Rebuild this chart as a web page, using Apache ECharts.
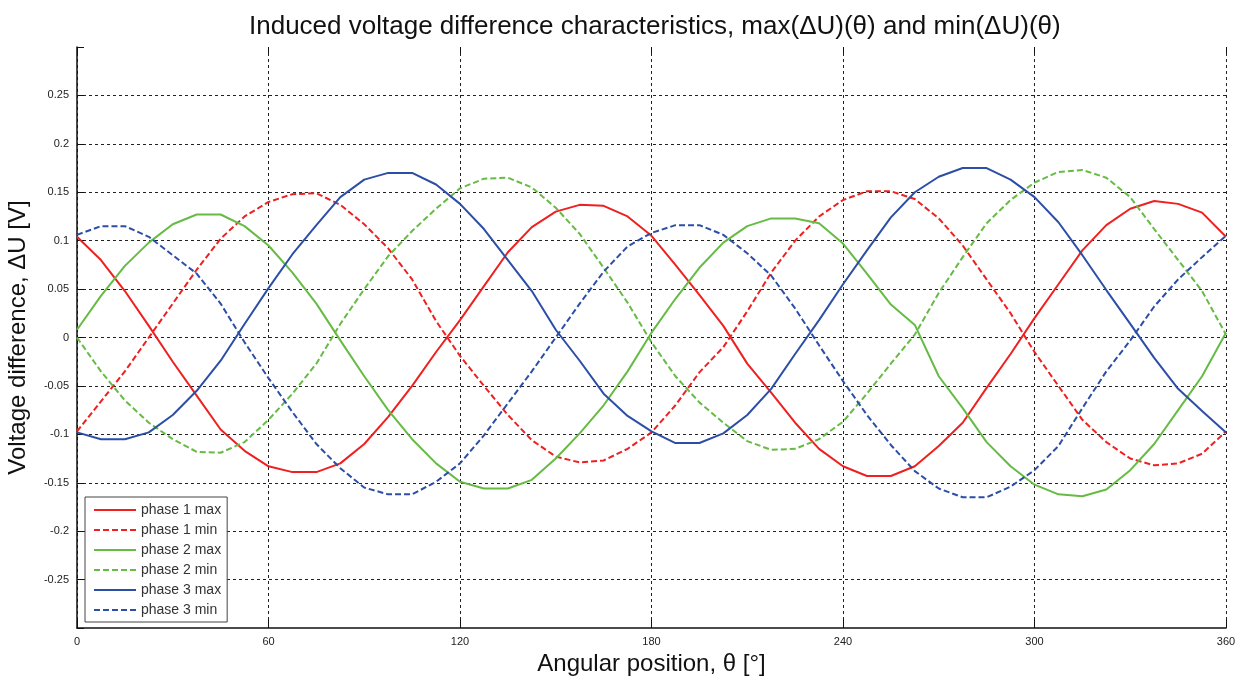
<!DOCTYPE html>
<html>
<head>
<meta charset="utf-8">
<script src="https://cdn.jsdelivr.net/npm/echarts@6/dist/echarts.min.js"></script>
<style>
  html, body { margin: 0; padding: 0; background: #fff; }
  #chart { width: 1247px; height: 678px; }
</style>
</head>
<body>
<div id="chart"></div>
<script>
// angular position samples, degrees
var theta = [0, 7.5, 15, 22.5, 30, 37.5, 45, 52.5, 60, 67.5, 75, 82.5, 90, 97.5, 105, 112.5,
  120, 127.5, 135, 142.5, 150, 157.5, 165, 172.5, 180, 187.5, 195, 202.5, 210, 217.5, 225, 232.5,
  240, 247.5, 255, 262.5, 270, 277.5, 285, 292.5, 300, 307.5, 315, 322.5, 330, 337.5, 345, 352.5, 360];

// volts
var phase1Max = [0.104, 0.080, 0.048, 0.012, -0.025, -0.060, -0.095, -0.117, -0.133, -0.139, -0.139, -0.130, -0.110, -0.082, -0.050, -0.015,
  0.018, 0.053, 0.088, 0.114, 0.130, 0.137, 0.136, 0.125, 0.105, 0.075, 0.044, 0.012, -0.027, -0.057, -0.088, -0.115,
  -0.133, -0.143, -0.143, -0.133, -0.112, -0.088, -0.052, -0.017, 0.020, 0.055, 0.090, 0.116, 0.133, 0.141, 0.138, 0.129, 0.104];
var phase1Min = [-0.097, -0.066, -0.035, 0.000, 0.035, 0.070, 0.102, 0.125, 0.140, 0.148, 0.149, 0.137, 0.117, 0.092, 0.060, 0.017,
  -0.019, -0.050, -0.080, -0.106, -0.123, -0.129, -0.127, -0.115, -0.098, -0.070, -0.036, -0.010, 0.027, 0.067, 0.100, 0.125,
  0.142, 0.151, 0.151, 0.143, 0.123, 0.095, 0.060, 0.025, -0.015, -0.050, -0.085, -0.108, -0.125, -0.132, -0.130, -0.120, -0.097];
var phase2Max = [0.008, 0.043, 0.074, 0.098, 0.117, 0.127, 0.127, 0.115, 0.095, 0.067, 0.035, -0.003, -0.040, -0.075, -0.105, -0.130,
  -0.149, -0.156, -0.156, -0.147, -0.125, -0.099, -0.070, -0.035, 0.005, 0.040, 0.072, 0.098, 0.115, 0.123, 0.123, 0.118,
  0.097, 0.066, 0.034, 0.013, -0.040, -0.073, -0.108, -0.133, -0.152, -0.162, -0.164, -0.157, -0.137, -0.110, -0.075, -0.040, 0.005];
var phase2Min = [0.000, -0.035, -0.065, -0.088, -0.105, -0.118, -0.119, -0.108, -0.085, -0.058, -0.027, 0.014, 0.050, 0.084, 0.110, 0.133,
  0.154, 0.164, 0.165, 0.155, 0.134, 0.107, 0.072, 0.036, -0.005, -0.040, -0.067, -0.088, -0.107, -0.116, -0.115, -0.105,
  -0.087, -0.058, -0.027, 0.003, 0.046, 0.083, 0.118, 0.142, 0.160, 0.171, 0.173, 0.165, 0.145, 0.112, 0.080, 0.048, 0.003];
var phase3Max = [-0.098, -0.105, -0.105, -0.098, -0.080, -0.055, -0.024, 0.014, 0.051, 0.086, 0.116, 0.145, 0.163, 0.170, 0.170, 0.158,
  0.138, 0.112, 0.080, 0.048, 0.008, -0.024, -0.058, -0.081, -0.097, -0.109, -0.109, -0.099, -0.080, -0.053, -0.017, 0.018,
  0.055, 0.090, 0.124, 0.150, 0.166, 0.175, 0.175, 0.163, 0.145, 0.119, 0.085, 0.049, 0.014, -0.021, -0.053, -0.076, -0.098];
var phase3Min = [0.106, 0.115, 0.115, 0.104, 0.085, 0.066, 0.035, -0.005, -0.042, -0.077, -0.110, -0.135, -0.155, -0.162, -0.162, -0.149,
  -0.130, -0.101, -0.068, -0.035, 0.000, 0.035, 0.068, 0.094, 0.108, 0.116, 0.116, 0.106, 0.087, 0.064, 0.030, -0.008,
  -0.045, -0.080, -0.111, -0.138, -0.156, -0.165, -0.165, -0.154, -0.137, -0.112, -0.073, -0.035, -0.003, 0.032, 0.060, 0.083, 0.105];

var seriesNames = ['phase 1 max', 'phase 1 min', 'phase 2 max', 'phase 2 min', 'phase 3 max', 'phase 3 min'];
var seriesValues = [phase1Max, phase1Min, phase2Max, phase2Min, phase3Max, phase3Min];

var RED = '#ee2020', GREEN = '#66bb44', BLUE = '#2c4ea6';
var colors = [RED, RED, GREEN, GREEN, BLUE, BLUE];

var FONT = '"Liberation Sans", Arial, sans-serif';
var gridDash = { color: '#222', width: 1, type: [3, 3] };

function pairs(vals) {
  return theta.map(function (t, i) { return [t, vals[i]]; });
}

var series = seriesNames.map(function (name, i) {
  return {
    name: name,
    type: 'line',
    data: pairs(seriesValues[i]),
    symbol: 'none',
    smooth: false,
    animation: false,
    lineStyle: { color: colors[i], width: 2, type: i % 2 ? [6, 3] : 'solid' },
    itemStyle: { color: colors[i] }
  };
});

var chart = echarts.init(document.getElementById('chart'));
chart.setOption({
  backgroundColor: '#fff',
  animation: false,
  color: colors,
  title: {
    text: 'Induced voltage difference characteristics, max(\u0394U)(\u03b8) and min(\u0394U)(\u03b8)',
    left: 244,
    top: 9,
    textStyle: { fontFamily: FONT, fontSize: 26, fontWeight: 'normal', color: '#111' }
  },
  legend: {
    orient: 'vertical',
    left: 85,
    top: 497,
    itemWidth: 42,
    itemHeight: 10,
    itemGap: 6,
    padding: [6, 6, 5, 8],
    backgroundColor: '#fff',
    borderColor: '#444',
    borderWidth: 1,
    itemStyle: { opacity: 0 },
    textStyle: { fontFamily: FONT, fontSize: 14, color: '#333' },
    data: seriesNames
  },
  grid: { left: 77, right: 21, top: 47, bottom: 50, containLabel: false, outerBoundsMode: 'none' },
  xAxis: [{
    type: 'value',
    min: 0, max: 360, interval: 60,
    name: 'Angular position, \u03b8 [\u00b0]',
    nameLocation: 'middle',
    nameGap: 22,
    nameTextStyle: { fontFamily: FONT, fontSize: 24, color: '#111' },
    axisLine: { show: true, onZero: false, lineStyle: { color: '#111', width: 1.5 } },
    axisTick: { show: true, inside: true, length: 9, lineStyle: { color: '#111' } },
    axisLabel: { fontFamily: FONT, fontSize: 11, color: '#222', margin: 8 },
    splitLine: { show: true, lineStyle: gridDash }
  }, {
    type: 'value',
    position: 'top',
    min: 0, max: 360, interval: 60,
    axisLine: { show: false, onZero: false },
    axisTick: { show: true, inside: true, length: 6, lineStyle: { color: '#111' } },
    axisLabel: { show: false },
    splitLine: { show: false }
  }],
  yAxis: {
    type: 'value',
    min: -0.3, max: 0.3, interval: 0.05,
    name: 'Voltage difference, \u0394U [V]',
    nameLocation: 'middle',
    nameGap: 47,
    nameTextStyle: { fontFamily: FONT, fontSize: 24, color: '#111' },
    axisLine: { show: true, onZero: false, lineStyle: { color: '#111', width: 1.5 } },
    axisTick: { show: true, inside: true, length: 7, lineStyle: { color: '#111' } },
    axisLabel: {
      fontFamily: FONT, fontSize: 11, color: '#222', margin: 8,
      formatter: function (v) {
        if (Math.abs(v) > 0.29) return '';
        return String(+v.toFixed(2));
      }
    },
    splitLine: { show: true, showMaxLine: false, showMinLine: false, lineStyle: gridDash }
  },
  series: series
});
</script>
</body>
</html>
